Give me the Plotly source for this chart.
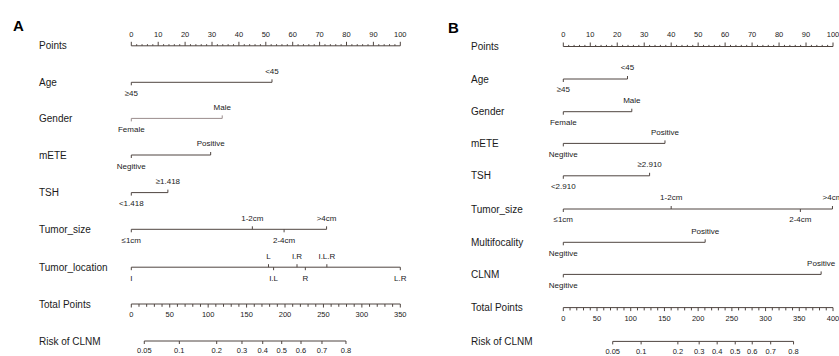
import plotly.graph_objects as go

# ---------------- DATA ----------------
# Panel A
A_vars = ["Age", "Gender", "mETE", "TSH", "Tumor_size", "Tumor_location"]
A_levels = {
    "Age": ["≥45", "<45"],
    "Gender": ["Female", "Male"],
    "mETE": ["Negitive", "Positive"],
    "TSH": ["<1.418", "≥1.418"],
    "Tumor_size": ["≤1cm", "1-2cm", "2-4cm", ">4cm"],
    "Tumor_location": ["I", "L", "I.L", "I.R", "R", "I.L.R", "L.R"],
}
A_points = {
    "Age": [0, 52.3],
    "Gender": [0, 33.8],
    "mETE": [0, 29.5],
    "TSH": [0, 13.6],
    "Tumor_size": [0, 45.0, 56.8, 72.6],
    "Tumor_location": [0, 51.0, 52.9, 61.6, 64.7, 72.7, 100],
}
A_side = {  # +1 label above, -1 label below
    "Age": [-1, 1],
    "Gender": [-1, 1],
    "mETE": [-1, 1],
    "TSH": [-1, 1],
    "Tumor_size": [-1, 1, -1, 1],
    "Tumor_location": [-1, 1, -1, 1, -1, 1, -1],
}
A_total_max = 350
A_risk_labels = ["0.05", "0.1", "0.2", "0.3", "0.4", "0.5", "0.6", "0.7", "0.8"]
A_risk_total = [16.9, 62.5, 111.1, 144.0, 171.0, 195.7, 220.8, 248.1, 279.3]

# Panel B
B_vars = ["Age", "Gender", "mETE", "TSH", "Tumor_size", "Multifocality", "CLNM"]
B_levels = {
    "Age": ["≥45", "<45"],
    "Gender": ["Female", "Male"],
    "mETE": ["Negitive", "Positive"],
    "TSH": ["<2.910", "≥2.910"],
    "Tumor_size": ["≤1cm", "1-2cm", "2-4cm", ">4cm"],
    "Multifocality": ["Negitive", "Positive"],
    "CLNM": ["Negitive", "Positive"],
}
B_points = {
    "Age": [0, 23.8],
    "Gender": [0, 25.4],
    "mETE": [0, 37.7],
    "TSH": [0, 32.0],
    "Tumor_size": [0, 40.0, 87.9, 99.8],
    "Multifocality": [0, 52.6],
    "CLNM": [0, 95.6],
}
B_side = {
    "Age": [-1, 1],
    "Gender": [-1, 1],
    "mETE": [-1, 1],
    "TSH": [-1, 1],
    "Tumor_size": [-1, 1, -1, 1],
    "Multifocality": [-1, 1],
    "CLNM": [-1, 1],
}
B_total_max = 400
B_risk_labels = ["0.05", "0.1", "0.2", "0.3", "0.4", "0.5", "0.6", "0.7", "0.8"]
B_risk_total = [73.3, 115.4, 169.9, 201.5, 228.2, 255.0, 280.2, 307.6, 341.5]

points_ticks = list(range(0, 101, 10))

# ---------------- LAYOUT CONSTANTS ----------------
W, H = 839, 356
LINE = "#4f4540"
TXT = "#1a1a1a"
FONT = "Liberation Sans, Arial, sans-serif"

A_rows = [45.8, 82.3, 118.4, 155.0, 192.6, 229.3, 267.2, 304.0, 341.0]
B_rows = [46.5, 79.0, 111.7, 143.4, 175.8, 209.0, 242.3, 274.4, 307.6, 341.4]

fig = go.Figure()


def seg_trace(xs, ys, xa, color=LINE, width=1):
    fig.add_trace(go.Scatter(x=xs, y=ys, mode="lines", xaxis=xa, yaxis="y",
                             line=dict(color=color, width=width),
                             hoverinfo="skip", showlegend=False, cliponaxis=False))


def text_trace(xs, ys, texts, xa, size, pos="middle center"):
    fig.add_trace(go.Scatter(x=xs, y=ys, mode="text", text=texts, xaxis=xa, yaxis="y",
                             textposition=pos, textfont=dict(family=FONT, size=size, color=TXT),
                             hoverinfo="skip", showlegend=False, cliponaxis=False))


def panel(xa, vars_, levels, pts, side, total_max, risk_labels, risk_total, rows,
          label_px, letter, letter_px, letter_py, var_colors=None, up_off=10.6, dn_off=11.8):
    paper = lambda px: px / W
    labels = ["Points"] + vars_ + ["Total Points", "Risk of CLNM"]
    for lab, y in zip(labels, rows):
        fig.add_annotation(x=paper(label_px), y=y, xref="paper", yref="y", text=lab,
                           showarrow=False, xanchor="left", yanchor="middle",
                           font=dict(family=FONT, size=10, color=TXT))
    fig.add_annotation(x=paper(letter_px), y=letter_py, xref="paper", yref="y", text="<b>%s</b>" % letter,
                       showarrow=False, xanchor="left", yanchor="middle",
                       font=dict(family="Liberation Sans, Arial", size=15, color="black"))

    # Points axis
    y0 = rows[0]
    seg_trace([0, 100], [y0, y0], xa)
    xs, ys = [], []
    for v in range(0, 101, 2):
        L = 4 if v % 10 == 0 else 1.6
        xs += [v, v, None]
        ys += [y0, y0 - L, None]
    seg_trace(xs, ys, xa)
    text_trace(points_ticks, [y0 - 11] * len(points_ticks), [str(v) for v in points_ticks], xa, 7.5)

    # Variables
    for i, var in enumerate(vars_):
        y = rows[i + 1]
        p = pts[var]
        col = var_colors.get(var, LINE) if var_colors else LINE
        seg_trace([min(p), max(p)], [y, y], xa, color=col)
        xs, ys = [], []
        for v, s in zip(p, side[var]):
            xs += [v, v, None]
            ys += [y, y - 3 * s, None]
        seg_trace(xs, ys, xa, color=col)
        up = [(v, t) for v, t, s in zip(p, levels[var], side[var]) if s > 0]
        dn = [(v, t) for v, t, s in zip(p, levels[var], side[var]) if s < 0]
        if up:
            text_trace([u[0] for u in up], [y - up_off] * len(up), [u[1] for u in up], xa, 8)
        if dn:
            text_trace([d[0] for d in dn], [y + dn_off] * len(dn), [d[1] for d in dn], xa, 8)

    scale = 100.0 / total_max
    # Total points axis
    yt = rows[-2]
    seg_trace([0, total_max * scale], [yt, yt], xa)
    xs, ys = [], []
    for v in range(0, total_max + 1, 10):
        L = 3.5 if v % 50 == 0 else 2.8
        xs += [v * scale, v * scale, None]
        ys += [yt, yt + L, None]
    seg_trace(xs, ys, xa)
    tl = list(range(0, total_max + 1, 50))
    text_trace([v * scale for v in tl], [yt + 11.5] * len(tl), [str(v) for v in tl], xa, 7.5)

    # Risk axis
    yr = rows[-1]
    rx = [v * scale for v in risk_total]
    seg_trace([rx[0], rx[-1]], [yr, yr], xa)
    xs, ys = [], []
    for v in rx:
        xs += [v, v, None]
        ys += [yr, yr + 3, None]
    seg_trace(xs, ys, xa)
    text_trace(rx, [yr + 10.5] * len(rx), risk_labels, xa, 7.5)


panel("x", A_vars, A_levels, A_points, A_side, A_total_max, A_risk_labels, A_risk_total,
      A_rows, 37, "A", 11, 25.5, var_colors={"Gender": "#9a8c8c"})
panel("x2", B_vars, B_levels, B_points, B_side, B_total_max, B_risk_labels, B_risk_total,
      B_rows, 469, "B", 446, 27, up_off=10.7, dn_off=11.2)

# axes: A: px = 131.3 + 2.69*p over domain [0, 419.5]
a_s, a_0 = 2.69, 131.3
b_s, b_0 = 2.697, 563.3
fig.update_layout(
    width=W, height=H, margin=dict(l=0, r=0, t=0, b=0),
    paper_bgcolor="white", plot_bgcolor="white",
    xaxis=dict(domain=[0, 0.5], range=[(0 - a_0) / a_s, (419.5 - a_0) / a_s], visible=False, fixedrange=True),
    xaxis2=dict(domain=[0.5, 1], range=[(419.5 - b_0) / b_s, (839 - b_0) / b_s], visible=False, fixedrange=True),
    yaxis=dict(domain=[0, 1], range=[H, 0], visible=False, fixedrange=True),
    showlegend=False,
)
fig.write_html("out.html")
